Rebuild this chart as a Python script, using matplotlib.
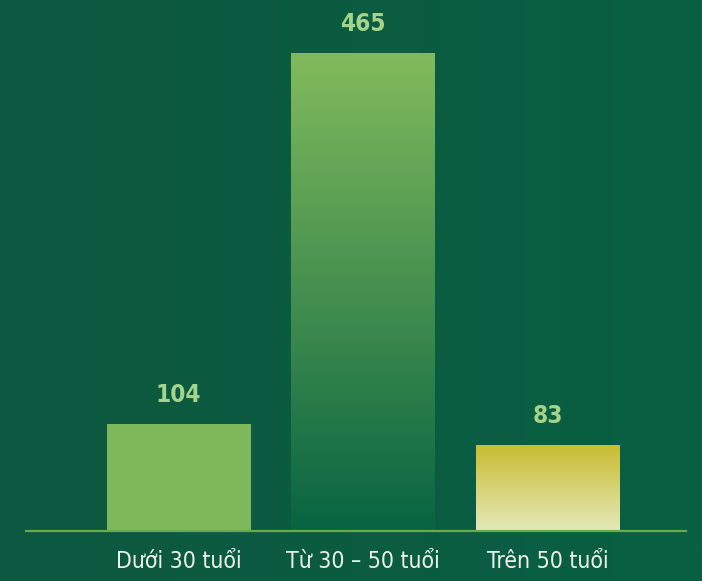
import numpy as np
import matplotlib
matplotlib.use('Agg')
import matplotlib.pyplot as plt
from matplotlib.colors import LinearSegmentedColormap

# age groups and headcount
categories = ['Dưới 30 tuổi', 'Từ 30 – 50 tuổi', 'Trên 50 tuổi']
values = [104, 465, 83]
# (top colour, bottom colour) for each bar
bar_colors = [('#7fb85a', '#7fb85a'), ('#82bb5c', '#076442'), ('#c8bc32', '#e3eab9')]

fig = plt.figure(figsize=(7.02, 5.81), dpi=100)

# background: slight left->right gradient
bg = fig.add_axes([0, 0, 1, 1])
bgmap = LinearSegmentedColormap.from_list('bg', ['#0e5840', '#096043'])
bg.imshow(np.linspace(0, 1, 256).reshape(1, -1), cmap=bgmap, aspect='auto', extent=[0, 1, 0, 1])
bg.axis('off')

ax = fig.add_axes([26 / 702, 50 / 581, 660 / 702, 513 / 581])
ax.patch.set_alpha(0)
width = 0.78

grad = np.linspace(1, 0, 256).reshape(-1, 1)
for i, (v, (ctop, cbot)) in enumerate(zip(values, bar_colors)):
    cmap = LinearSegmentedColormap.from_list('b%d' % i, [cbot, ctop])
    ax.imshow(grad, cmap=cmap, aspect='auto', vmin=0, vmax=1,
              extent=[i - width / 2, i + width / 2, 0, v], zorder=2)
    ax.text(i, v + 17, str(v), ha='center', va='bottom', fontsize=17.5,
            fontweight='bold', color='#a4d48b', family='DejaVu Sans', fontstretch='condensed')

ax.set_xlim(-0.827, 2.75)
ax.set_ylim(0, 500)
ax.axhline(0, color='#6aaa4c', lw=1.6, zorder=3, clip_on=False)
for s in ax.spines.values():
    s.set_visible(False)
ax.set_yticks([])
ax.set_xticks(range(len(categories)))
ax.set_xticklabels(categories, fontsize=16.5, color='#eef3ea', family='DejaVu Sans', fontstretch='condensed')
ax.tick_params(axis='x', length=0, pad=14)

plt.savefig('out.png', dpi=100)
